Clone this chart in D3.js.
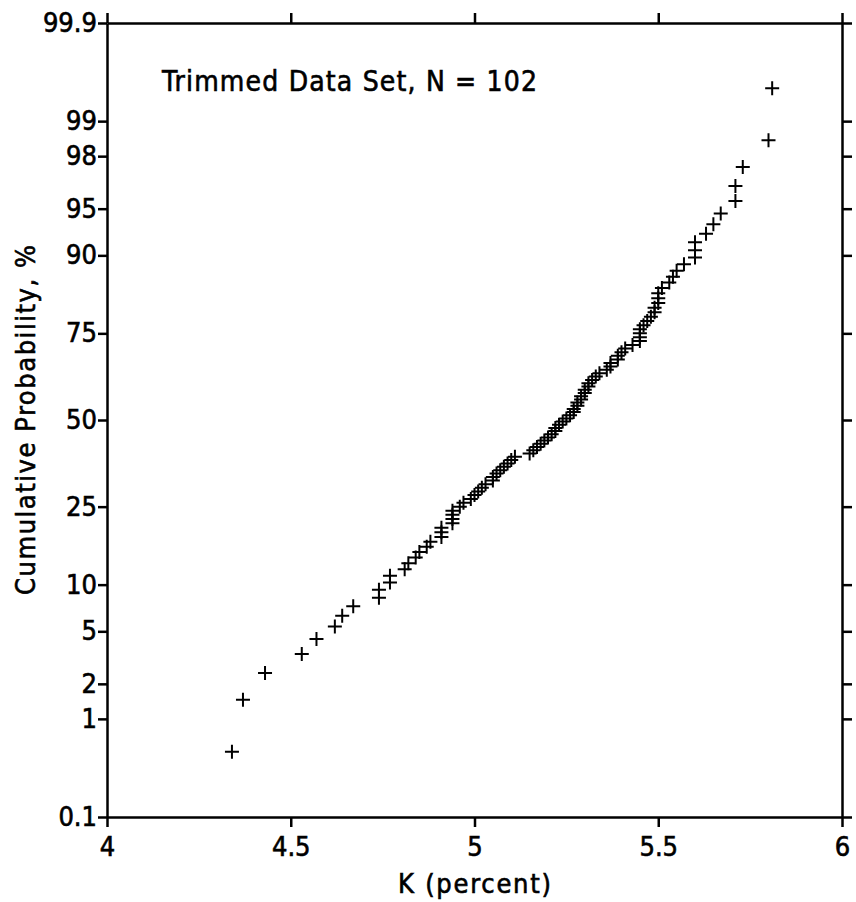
<!DOCTYPE html>
<html>
<head>
<meta charset="utf-8">
<script src="https://cdn.jsdelivr.net/npm/d3@7"></script>
<style>
  body { margin: 0; background: #fff; }
  text { font-family: "DejaVu Sans", sans-serif; font-stretch: condensed; fill: #000; stroke: #000; stroke-width: 0.6px; }
</style>
</head>
<body>
<div id="chart"></div>
<script>
// sorted K values (percent), trimmed data set
var kValues = [
  4.34, 4.37, 4.43, 4.53, 4.57, 4.62, 4.64, 4.67, 4.74, 4.74,
  4.77, 4.77, 4.81, 4.82, 4.84, 4.85, 4.87, 4.88, 4.91, 4.91,
  4.91, 4.94, 4.94, 4.94, 4.94, 4.96, 4.97, 4.99, 5.00, 5.01,
  5.02, 5.03, 5.05, 5.05, 5.06, 5.07, 5.08, 5.09, 5.10, 5.11,
  5.15, 5.16, 5.17, 5.18, 5.19, 5.20, 5.21, 5.22, 5.22, 5.23,
  5.24, 5.25, 5.26, 5.27, 5.27, 5.28, 5.28, 5.29, 5.29, 5.30,
  5.30, 5.31, 5.31, 5.32, 5.33, 5.34, 5.36, 5.37, 5.37, 5.39,
  5.39, 5.40, 5.41, 5.43, 5.45, 5.45, 5.45, 5.45, 5.46, 5.47,
  5.48, 5.49, 5.49, 5.50, 5.50, 5.50, 5.51, 5.53, 5.54, 5.55,
  5.57, 5.60, 5.60, 5.60, 5.63, 5.65, 5.67, 5.71, 5.71, 5.73,
  5.80, 5.81
];
var xTicks = [4, 4.5, 5, 5.5, 6];
var xTickLabels = ["4", "4.5", "5", "5.5", "6"];
var probTicks = [0.1, 1, 2, 5, 10, 25, 50, 75, 90, 95, 98, 99, 99.9];
var probTickLabels = ["0.1", "1", "2", "5", "10", "25", "50", "75", "90", "95", "98", "99", "99.9"];

var width = 856, height = 902;
var margin = {top: 23, right: 14, bottom: 85, left: 107};

// inverse normal cdf (Acklam) for the probability axis
function probit(p) {
  var a = [-3.969683028665376e+01, 2.209460984245205e+02, -2.759285104469687e+02, 1.383577518672690e+02, -3.066479806614716e+01, 2.506628277459239e+00];
  var b = [-5.447609879822406e+01, 1.615858368580409e+02, -1.556989798598866e+02, 6.680131188771972e+01, -1.328068155288572e+01];
  var c = [-7.784894002430293e-03, -3.223964580411365e-01, -2.400758277161838e+00, -2.549671607463578e+00, 4.374664141464968e+00, 2.938163982698783e+00];
  var d = [7.784695709041462e-03, 3.224671290700398e-01, 2.445134137142996e+00, 3.754408661907416e+00];
  var pl = 0.02425, q, r;
  if (p < pl) {
    q = Math.sqrt(-2 * Math.log(p));
    return (((((c[0]*q+c[1])*q+c[2])*q+c[3])*q+c[4])*q+c[5]) / ((((d[0]*q+d[1])*q+d[2])*q+d[3])*q+1);
  }
  if (p <= 1 - pl) {
    q = p - 0.5; r = q * q;
    return (((((a[0]*r+a[1])*r+a[2])*r+a[3])*r+a[4])*r+a[5])*q / (((((b[0]*r+b[1])*r+b[2])*r+b[3])*r+b[4])*r+1);
  }
  q = Math.sqrt(-2 * Math.log(1 - p));
  return -(((((c[0]*q+c[1])*q+c[2])*q+c[3])*q+c[4])*q+c[5]) / ((((d[0]*q+d[1])*q+d[2])*q+d[3])*q+1);
}

var n = kValues.length;
var data = kValues.map(function (k, i) {
  return {k: k, z: probit((i + 0.5) / n)};
});

var svg = d3.select("#chart")
  .append("svg")
    .attr("width", width)
    .attr("height", height);

svg.append("rect").attr("width", width).attr("height", height).attr("fill", "#fff");

var x = d3.scaleLinear()
  .domain([4, 6])
  .range([margin.left, width - margin.right]);

// linear in z, labelled in percent
var y = d3.scaleLinear()
  .domain([probit(0.001), probit(0.999)])
  .range([height - margin.bottom, margin.top]);

var zTicks = probTicks.map(function (p) { return probit(p / 100); });

function styleAxis(g) {
  g.select(".domain").attr("stroke-width", 2.5);
  g.selectAll(".tick line").attr("stroke-width", 2.5);
  g.selectAll("text")
    .style("font-size", "27px")
    .attr("font-family", null)
    .attr("fill", null);
}

// bottom axis
svg.append("g")
  .attr("transform", "translate(0," + y.range()[0] + ")")
  .call(d3.axisBottom(x).tickValues(xTicks)
    .tickFormat(function (d, i) { return xTickLabels[i]; })
    .tickSize(10).tickSizeOuter(0).tickPadding(10))
  .call(styleAxis);

// top axis, ticks only
svg.append("g")
  .attr("transform", "translate(0," + y.range()[1] + ")")
  .call(d3.axisTop(x).tickValues(xTicks).tickFormat("")
    .tickSize(10).tickSizeOuter(0))
  .call(styleAxis);

// left axis
svg.append("g")
  .attr("transform", "translate(" + x.range()[0] + ",0)")
  .call(d3.axisLeft(y).tickValues(zTicks)
    .tickFormat(function (d, i) { return probTickLabels[i]; })
    .tickSize(9).tickSizeOuter(0).tickPadding(1))
  .call(styleAxis);

// right axis, ticks only
svg.append("g")
  .attr("transform", "translate(" + x.range()[1] + ",0)")
  .call(d3.axisRight(y).tickValues(zTicks).tickFormat("")
    .tickSize(10).tickSizeOuter(0))
  .call(styleAxis);

// points as plus signs
svg.append("g")
  .selectAll("path")
  .data(data)
  .enter()
  .append("path")
    .attr("transform", function (d) { return "translate(" + x(d.k) + "," + y(d.z) + ")"; })
    .attr("d", "M-7,0H7M0,-7V7")
    .attr("stroke", "#000")
    .attr("stroke-width", 2)
    .attr("fill", "none");

// title inside the plot
svg.append("text")
  .attr("x", 162)
  .attr("y", 91)
  .attr("textLength", 375)
  .attr("lengthAdjust", "spacing")
  .style("font-size", "28px")
  .text("Trimmed Data Set, N = 102");

// axis titles
svg.append("text")
  .attr("x", (x.range()[0] + x.range()[1]) / 2)
  .attr("y", 893)
  .attr("text-anchor", "middle")
  .attr("textLength", 153)
  .attr("lengthAdjust", "spacing")
  .style("font-size", "27px")
  .text("K (percent)");

svg.append("text")
  .attr("transform", "translate(35," + ((y.range()[0] + y.range()[1]) / 2) + ") rotate(-90)")
  .attr("text-anchor", "middle")
  .attr("textLength", 350)
  .attr("lengthAdjust", "spacing")
  .style("font-size", "27px")
  .text("Cumulative Probability, %");
</script>
</body>
</html>
